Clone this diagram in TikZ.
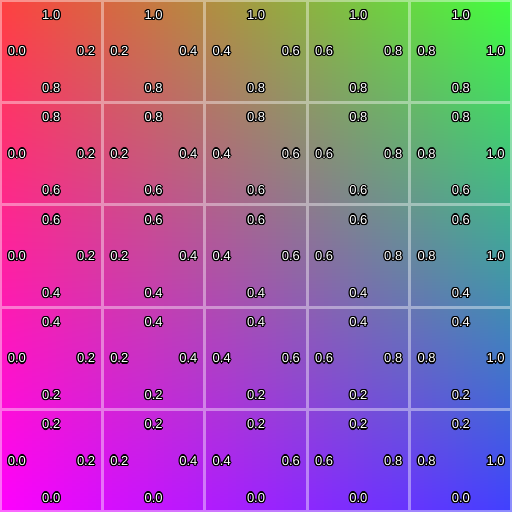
\documentclass[tikz,border=0pt]{standalone}
\usepackage{fontspec}
\setmainfont{Liberation Sans}

\definecolor{cornerTL}{RGB}{255,64,64}
\definecolor{cornerTR}{RGB}{64,255,64}
\definecolor{cornerBL}{RGB}{255,0,255}
\definecolor{cornerBR}{RGB}{64,64,255}

% white digits with a thin black rim
\newcommand{\halo}[1]{{\setbox0\hbox{#1}%
  \def\hh##1##2{\rlap{\kern##1\raisebox{##2}{\textcolor{black}{\copy0}}}}%
  \hh{.7pt}{0pt}\hh{-.7pt}{0pt}\hh{0pt}{.7pt}\hh{0pt}{-.7pt}%
  \hh{.5pt}{.5pt}\hh{-.5pt}{.5pt}\hh{.5pt}{-.5pt}\hh{-.5pt}{-.5pt}%
  \textcolor{white}{\box0}}}

\begin{document}
\begin{tikzpicture}[
    font=\fontsize{7.2}{8}\selectfont,
    val/.style={inner sep=0pt, text=white},
    gridline/.style={white, opacity=0.4, line width=1.7pt}
  ]
  \useasboundingbox (0,0) rectangle (10,10);
  \begin{scope}
    \clip (0,0) rectangle (10,10);
    % colour field, thin vertical strips
    \foreach \i in {0,...,127}{
      \pgfmathsetmacro{\p}{(\i+0.5)/1.28}
      \pgfmathsetmacro{\xa}{\i*10/128}
      \colorlet{topc}{cornerTR!\p!cornerTL}
      \colorlet{botc}{cornerBR!\p!cornerBL}
      \shade[top color=topc, bottom color=botc] (\xa,0) rectangle ++(0.1,10);
    }
    % cell borders
    \draw[gridline] (0,0) grid[step=2] (10,10);
  \end{scope}

  % values on each cell
  \foreach \c/\lo/\hi in {0/0.0/0.2, 1/0.2/0.4, 2/0.4/0.6, 3/0.6/0.8, 4/0.8/1.0}
    \foreach \j/\bt/\tp in {0/0.0/0.2, 1/0.2/0.4, 2/0.4/0.6, 3/0.6/0.8, 4/0.8/1.0}{
      \node[val] (l-\c-\j) at (2*\c+0.33, 2*\j+1) {\halo{\lo}};
      \node[val] (r-\c-\j) at (2*\c+1.68, 2*\j+1) {\halo{\hi}};
      \node[val] (t-\c-\j) at (2*\c+1, 2*\j+1.71) {\halo{\tp}};
      \node[val] (b-\c-\j) at (2*\c+1, 2*\j+0.28) {\halo{\bt}};
    }
\end{tikzpicture}
\end{document}
